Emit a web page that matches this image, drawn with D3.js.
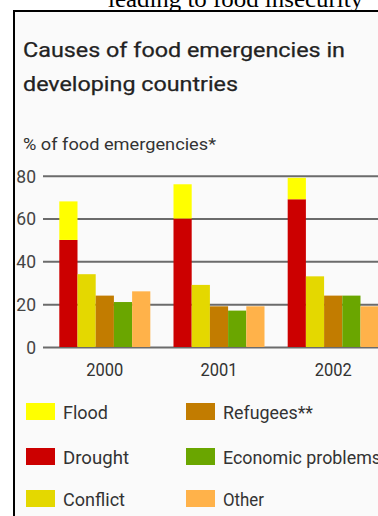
<!DOCTYPE html>
<html>
<head>
<meta charset="utf-8">
<script src="https://cdn.jsdelivr.net/npm/d3@7"></script>
<style>
  html, body { margin: 0; padding: 0; background: #ffffff; }
  svg { display: block; }
</style>
</head>
<body>
<svg id="chart" width="378" height="516"></svg>
<script>
// Share of food emergencies by cause, per year
const years = ["2000", "2001", "2002"];
const flood = [18, 16, 10];      // stacked on top of drought
const drought = [50, 60, 69];
const conflict = [34, 29, 33];
const refugees = [24, 19, 24];
const economic = [21, 17, 24];
const other = [26, 19, 19];
const yTicks = [0, 20, 40, 60, 80];

const seriesNames = ["Drought", "Conflict", "Refugees**", "Economic problems", "Other"];
const colors = {
  "Flood": "#ffff00",
  "Drought": "#cc0000",
  "Conflict": "#e4d800",
  "Refugees**": "#c27c00",
  "Economic problems": "#6aa600",
  "Other": "#ffb24a"
};

const W = 378, H = 516;
const svg = d3.select("#chart");
const font = "Roboto, 'Liberation Sans', sans-serif";

// Running header above the panel
svg.append("text")
  .attr("x", 108).attr("y", 7)
  .attr("font-family", "'Liberation Serif', 'DejaVu Serif', serif")
  .attr("font-size", 24)
  .attr("fill", "#000")
  .attr("textLength", 255).attr("lengthAdjust", "spacingAndGlyphs")
  .text("leading to food insecurity");

// Panel with black top and left rules
svg.append("rect").attr("x", 14).attr("y", 11).attr("width", W - 14).attr("height", H - 11)
  .attr("fill", "#fafafa");
svg.append("rect").attr("x", 13).attr("y", 10).attr("width", W - 13).attr("height", 2).attr("fill", "#000");
svg.append("rect").attr("x", 13).attr("y", 10).attr("width", 2).attr("height", H - 10).attr("fill", "#000");

// Title
const title = svg.append("g").attr("font-family", font).attr("fill", "#222")
  .attr("stroke", "#222").attr("stroke-width", 0.25);
title.append("text").attr("x", 23).attr("y", 57).attr("font-size", 20.5)
  .attr("textLength", 322).attr("lengthAdjust", "spacingAndGlyphs")
  .text("Causes of food emergencies in");
title.append("text").attr("x", 23).attr("y", 91).attr("font-size", 20.5)
  .attr("textLength", 215).attr("lengthAdjust", "spacingAndGlyphs")
  .text("developing countries");

svg.append("text").attr("x", 23).attr("y", 150)
  .attr("font-family", font).attr("font-size", 17).attr("fill", "#333")
  .attr("textLength", 193).attr("lengthAdjust", "spacingAndGlyphs")
  .text("% of food emergencies*");

// Scales
const y = d3.scaleLinear().domain([0, 80]).range([347, 175.7]);
const x0 = d3.scaleBand().domain(years).range([59.3, 378.7]).paddingInner(0.203).paddingOuter(0);
const x1 = d3.scaleBand().domain(seriesNames).range([0, x0.bandwidth()]).padding(0);

// Gridlines with value labels
const yAxis = d3.axisLeft(y).tickValues(yTicks).tickSize(-(W - 43)).tickPadding(7);
const ag = svg.append("g").attr("transform", "translate(43,0)").call(yAxis);
ag.select(".domain").remove();
ag.selectAll(".tick line").attr("stroke", "#6b6b6b").attr("stroke-width", 2);
ag.selectAll(".tick text")
  .attr("font-family", font).attr("font-size", 17.5).attr("fill", "#444")
  .attr("dy", "0.36em");

// Bars
const rows = years.map((yr, i) => ({
  year: yr,
  values: [drought[i], conflict[i], refugees[i], economic[i], other[i]],
  flood: flood[i]
}));

const groups = svg.append("g").selectAll("g").data(rows).join("g")
  .attr("transform", d => `translate(${x0(d.year)},0)`);

groups.selectAll("rect.bar")
  .data(d => d.values.map((v, k) => ({ key: seriesNames[k], value: v })))
  .join("rect").attr("class", "bar")
  .attr("x", d => x1(d.key))
  .attr("width", x1.bandwidth())
  .attr("y", d => y(d.value))
  .attr("height", d => y(0) - y(d.value))
  .attr("fill", d => colors[d.key]);

// Flood stacked above drought
groups.append("rect")
  .attr("x", x1("Drought"))
  .attr("width", x1.bandwidth())
  .attr("y", (d, i) => y(drought[i] + flood[i]))
  .attr("height", (d, i) => y(drought[i]) - y(drought[i] + flood[i]))
  .attr("fill", colors["Flood"]);

// Year labels
svg.append("g").selectAll("text").data(years).join("text")
  .attr("x", d => x0(d) + x0.bandwidth() / 2)
  .attr("y", 376)
  .attr("text-anchor", "middle")
  .attr("font-family", font).attr("font-size", 19).attr("fill", "#333")
  .attr("textLength", 37).attr("lengthAdjust", "spacingAndGlyphs")
  .text(d => d);

// Legend
const legendItems = [
  { name: "Flood", col: 0, row: 0, w: 45 },
  { name: "Drought", col: 0, row: 1, w: 66 },
  { name: "Conflict", col: 0, row: 2, w: 62 },
  { name: "Refugees**", col: 1, row: 0, w: 90 },
  { name: "Economic problems", col: 1, row: 1, w: 158 },
  { name: "Other", col: 1, row: 2, w: 41 }
];
const colX = [26, 186];
const rowY = [403, 448, 490];
const lg = svg.append("g").selectAll("g").data(legendItems).join("g")
  .attr("transform", d => `translate(${colX[d.col]},${rowY[d.row]})`);
lg.append("rect").attr("width", 29).attr("height", 17).attr("fill", d => colors[d.name]);
lg.append("text")
  .attr("x", 37).attr("y", 16)
  .attr("font-family", font).attr("font-size", 19).attr("fill", "#333")
  .attr("textLength", d => d.w).attr("lengthAdjust", "spacingAndGlyphs")
  .text(d => d.name);
</script>
</body>
</html>
